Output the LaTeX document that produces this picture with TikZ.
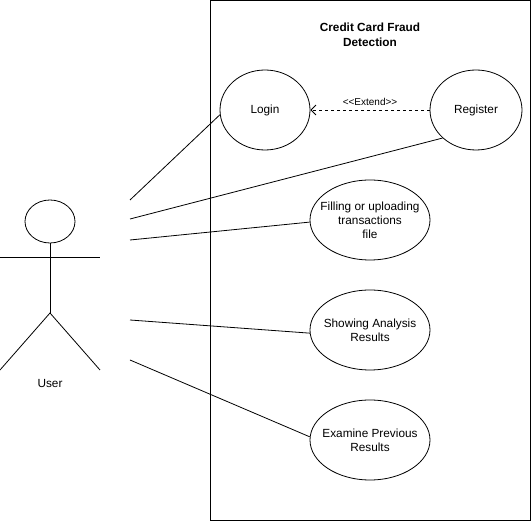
\documentclass[tikz,border=0pt]{standalone}
\usepackage{fontspec}
\setmainfont{Liberation Sans}
\usetikzlibrary{shapes.geometric,arrows.meta}
\begin{document}
\begin{tikzpicture}[x=1pt,y=-1pt,
  usecase/.style={draw,ellipse,line width=0.8pt,inner sep=0pt},
  uctext/.style={align=center,font=\fontsize{11.8}{14}\selectfont,inner sep=0pt},
  assoc/.style={draw,line width=0.8pt},
  extendline/.style={draw,line width=0.8pt,dash pattern=on 3pt off 3pt,-{Straight Barb[length=5pt,width=10pt]}},
  actorline/.style={draw,line width=0.8pt}]
\useasboundingbox (0,0) rectangle (531,521);
% system boundary
\node[draw,line width=0.8pt,minimum width=320pt,minimum height=520pt,inner sep=0pt,anchor=north west] (sys) at (210,0.5) {};
\node[font=\bfseries\fontsize{11.8}{15}\selectfont,align=center] (title) at (370,35) {Credit Card Fraud\\Detection};
% use cases
\node[usecase,minimum width=90pt,minimum height=80pt] (login) at (265,110) {};
\node[uctext] (tlogin) at (login.center) {Login};
\node[usecase,minimum width=92pt,minimum height=80pt] (register) at (476,110) {};
\node[uctext] (tregister) at (register.center) {Register};
\node[usecase,minimum width=120pt,minimum height=80pt] (fill) at (370,220) {};
\node[uctext] (tfill) at (fill.center) {Filling or uploading\\transactions\\file};
\node[usecase,minimum width=120pt,minimum height=80pt] (show) at (370,330) {};
\node[uctext] (tshow) at (show.center) {Showing Analysis\\Results};
\node[usecase,minimum width=120pt,minimum height=80pt] (exam) at (370,440) {};
\node[uctext] (texam) at (exam.center) {Examine Previous\\Results};
% actor
\node[draw,ellipse,line width=0.8pt,minimum width=50pt,minimum height=43pt,inner sep=0pt] (head) at (50,221.5) {};
\coordinate (hip) at (50,313);
\coordinate (armL) at (0,257);
\coordinate (armR) at (100,257);
\coordinate (legL) at (0,370);
\coordinate (legR) at (100,370);
\draw[actorline] (head.south) -- (hip);
\draw[actorline] (armL) -- (armR);
\draw[actorline] (legL) -- (hip) -- (legR);
\node[font=\fontsize{11.8}{14}\selectfont] (user) at (50,383) {User};
% association ends
\coordinate (u1) at (130,200);
\coordinate (u2) at (130,219);
\coordinate (u3) at (130,240);
\coordinate (u4) at (130,320);
\coordinate (u5) at (130,360);
\draw[assoc] (u1) -- (login.186);
\draw[assoc] (u2) -- (register.220);
\draw[assoc] (u3) -- (fill.182);
\draw[assoc] (u4) -- (show.183);
\draw[assoc] (u5) -- (exam.177);
% extend
\draw[extendline] (register.west) -- node[above=1pt,font=\fontsize{10}{12}\selectfont] (ext) {{<}{<}Extend{>}{>}} (login.east);
\end{tikzpicture}
\end{document}
